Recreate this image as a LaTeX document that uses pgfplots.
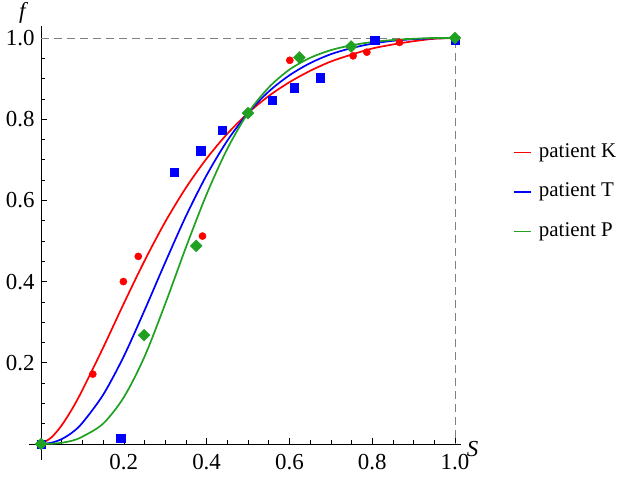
\documentclass[border=0pt]{standalone}
\usepackage{fontspec}
\setmainfont{Liberation Serif}
\usepackage{pgfplots}
\pgfplotsset{compat=1.18}
\definecolor{cK}{rgb}{1,0,0}
\definecolor{cT}{rgb}{0,0,1}
\definecolor{cP}{rgb}{0.13,0.63,0.13}
\begin{document}
\begin{tikzpicture}
\path[use as bounding box] (0bp,0bp) rectangle (638bp,477bp);
\begin{axis}[
 at={(28.6bp,16.8bp)}, anchor=south west,
 scale only axis, width=432.6bp, height=434.4bp,
 xmin=-0.03, xmax=1.015, ymin=-0.04, ymax=1.03,
 axis lines=middle, axis line style={-, black, line width=0.8bp},
 clip=false,
 xtick={0.2,0.4,0.6,0.8,1.0}, ytick={0.2,0.4,0.6,0.8,1.0},
 minor xtick={0.05,0.1,0.15,0.25,0.3,0.35,0.45,0.5,0.55,0.65,0.7,0.75,0.85,0.9,0.95},
 minor ytick={0.05,0.1,0.15,0.25,0.3,0.35,0.45,0.5,0.55,0.65,0.7,0.75,0.85,0.9,0.95},
 tick align=inside,
 major tick length=6bp, minor tick length=3.5bp,
 tick style={black, line width=0.6bp},
 every tick label/.append style={font=\fontsize{23}{27}\selectfont},
 xticklabel style={yshift=-7bp},
 yticklabel style={xshift=-3bp},
 /pgf/number format/.cd, fixed, fixed zerofill, precision=1, assume math mode=true,
 /pgfplots/.cd,
 legend style={draw=none, fill=none, at={(1.113,0.6174)}, anchor=west,
   font=\fontsize{21}{25}\selectfont,
   nodes={inner sep=0pt, text height=14bp, text depth=4bp},
   row sep=21.5bp, column sep=7bp},
 legend cell align=left,
 legend image code/.code={\draw[#1, line width=1.7bp] (0bp,0bp) -- (17bp,0bp);},
]
\addplot[gray, line width=0.9bp, dash pattern=on 8bp off 5bp, forget plot] coordinates {(0,1) (1,1) (1,0)};
\addplot[cK, line width=1.7bp, smooth] coordinates {(0,0) (0.025,0.016) (0.05,0.046) (0.075,0.086) (0.1,0.133) (0.15,0.237) (0.2,0.346) (0.25,0.451) (0.3,0.547) (0.35,0.631) (0.4,0.703) (0.45,0.764) (0.5,0.815) (0.55,0.857) (0.6,0.891) (0.65,0.919) (0.7,0.942) (0.75,0.959) (0.8,0.974) (0.85,0.984) (0.9,0.992) (0.95,0.998) (1,1)};
\addlegendentry{patient K}
\addplot[cT, line width=1.7bp, smooth] coordinates {(0,0) (0.025,0.003) (0.05,0.012) (0.075,0.028) (0.1,0.052) (0.15,0.121) (0.2,0.216) (0.25,0.329) (0.3,0.447) (0.35,0.561) (0.4,0.662) (0.45,0.747) (0.5,0.815) (0.55,0.868) (0.6,0.908) (0.65,0.938) (0.7,0.960) (0.75,0.975) (0.8,0.986) (0.85,0.993) (0.9,0.997) (0.95,0.999) (1,1)};
\addlegendentry{patient T}
\addplot[cP, line width=1.7bp, smooth] coordinates {(0,0) (0.025,0.0005) (0.05,0.003) (0.075,0.008) (0.1,0.018) (0.15,0.050) (0.2,0.115) (0.25,0.215) (0.3,0.345) (0.35,0.484) (0.4,0.615) (0.45,0.727) (0.5,0.815) (0.55,0.878) (0.6,0.922) (0.65,0.951) (0.7,0.970) (0.75,0.982) (0.8,0.990) (0.85,0.995) (0.9,0.998) (0.95,1.0) (1,1)};
\addlegendentry{patient P}
\addplot[only marks, mark=*, mark size=3.6bp, cK, forget plot] coordinates {(0,0) (0.125,0.172) (0.199,0.400) (0.235,0.462) (0.390,0.512) (0.5,0.815) (0.601,0.945) (0.754,0.956) (0.787,0.965) (0.866,0.989) (1,1)};
\addplot[only marks, mark=square*, mark size=4.2bp, cT, forget plot] coordinates {(0,0) (0.192,0.014) (0.321,0.669) (0.386,0.722) (0.438,0.773) (0.559,0.846) (0.611,0.878) (0.675,0.902) (0.806,0.995) (1.0,0.995)};
\addplot[only marks, mark=square*, mark size=4.2bp, mark options={rotate=45}, cP, forget plot] coordinates {(0,0) (0.249,0.268) (0.375,0.488) (0.5,0.815) (0.624,0.952) (0.749,0.979) (1,1)};
\node[anchor=west, font=\fontsize{23}{27}\selectfont\itshape] at (axis cs:1.02,-0.012) {S};
\node[font=\fontsize{23}{27}\selectfont\itshape] at (axis cs:-0.045,1.062) {f};
\end{axis}
\end{tikzpicture}
\end{document}
